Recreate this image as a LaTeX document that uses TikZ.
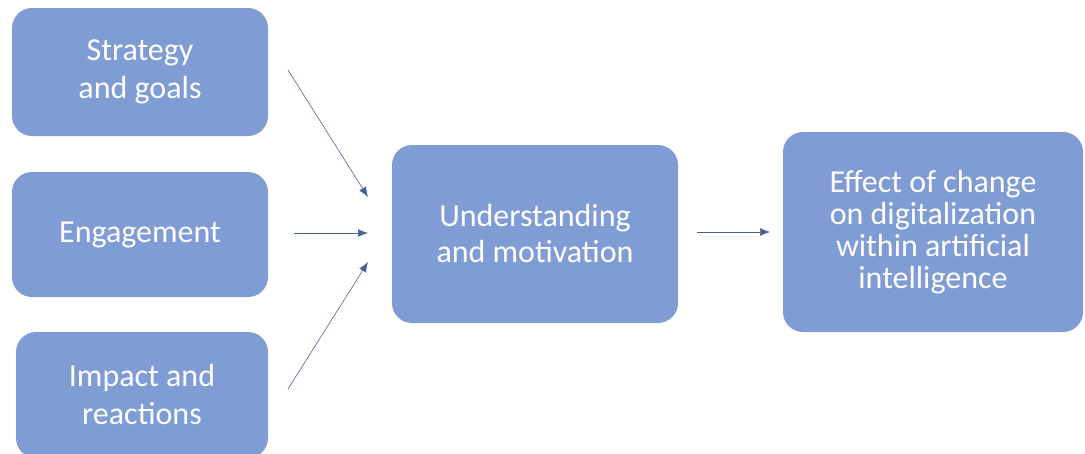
\documentclass[tikz,border=0pt]{standalone}
\usepackage{fontspec}
\setmainfont{Carlito}
\usetikzlibrary{arrows.meta}
\definecolor{boxblue}{RGB}{127,156,213}
\definecolor{arrowblue}{RGB}{72,98,150}
\tikzset{
	block/.style={draw=none,fill=boxblue,rounded corners=20pt,text=white,align=center,font=\fontsize{32}{38}\selectfont},
	link/.style={draw=arrowblue,line width=0.6pt,-{Latex[length=10pt,width=8pt]}}
}
\begin{document}
\begin{tikzpicture}[x=1pt,y=-1pt]
	\useasboundingbox (0,0) rectangle (1085,453);
	\clip (0,0) rectangle (1085,453);
	\node [block,minimum width=256pt,minimum height=128pt] (strategy) at (140,72) {Strategy\\and goals};
	\node [block,minimum width=256pt,minimum height=125pt] (engage) at (140,234.5) {Engagement};
	\node [block,minimum width=252pt,minimum height=126pt] (impact) at (142,395) {Impact and\\reactions};
	\node [block,minimum width=286pt,minimum height=178pt,font=\fontsize{32}{36}\selectfont] (underst) at (535,234) {Understanding\\and motivation};
	\node [block,minimum width=300pt,minimum height=200pt,font=\fontsize{32}{32}\selectfont] (effect) at (933,232) {Effect of change\\on digitalization\\within artificial\\intelligence};
	% free ends of the arrows
	\coordinate (a1) at (288,70);
	\coordinate (b1) at (368,197);
	\coordinate (a2) at (294,233);
	\coordinate (b2) at (368,233);
	\coordinate (a3) at (288,389);
	\coordinate (b3) at (368,262);
	\coordinate (a4) at (697,232);
	\coordinate (b4) at (770,232);
	\draw [link] (a1) -- (b1);
	\draw [link] (a2) -- (b2);
	\draw [link] (a3) -- (b3);
	\draw [link] (a4) -- (b4);
\end{tikzpicture}
\end{document}
